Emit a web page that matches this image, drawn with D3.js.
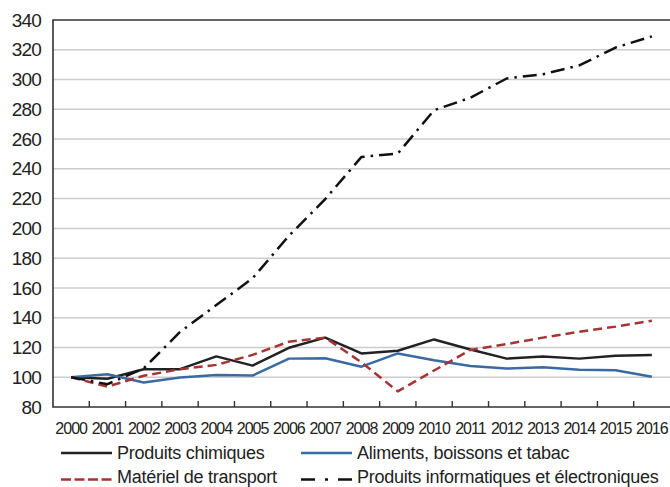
<!DOCTYPE html>
<html>
<head>
<meta charset="utf-8">
<script src="https://cdn.jsdelivr.net/npm/d3@7"></script>
<style>
  body { margin: 0; background: #fff; }
  svg { display: block; font-family: "Liberation Sans", Arial, sans-serif; }
</style>
</head>
<body>
<script>
// Data (index, 2000 = 100)
const years = ["2000","2001","2002","2003","2004","2005","2006","2007","2008","2009","2010","2011","2012","2013","2014","2015","2016"];
const chimiques = [100, 99, 105.4, 105.4, 114, 107.8, 119.8, 126.6, 116, 117.8, 125.4, 118.6, 112.5, 114, 112.5, 114.5, 115];
const aliments = [100, 102, 96.4, 99.8, 101.5, 101.1, 112.5, 112.7, 107.1, 116, 111.4, 107.6, 105.8, 106.7, 105.1, 104.7, 100.3];
const transport = [100, 93.7, 101, 105.4, 108.3, 115, 123.9, 126.6, 110, 90.5, 104.5, 118.3, 122.3, 126.6, 130.6, 134, 138];
const informatique = [100, 95.3, 106, 130.4, 148.5, 166.5, 195, 219.7, 248, 250.3, 279.4, 287.8, 300.7, 303.6, 309.5, 321.5, 329];
const yTicks = [80, 100, 120, 140, 160, 180, 200, 220, 240, 260, 280, 300, 320, 340];

const width = 670, height = 487;
const margin = { top: 20, right: 0, bottom: 80, left: 53 };

const series = [
    { name: "Produits chimiques", values: chimiques, color: "#222222", dash: null, width: 2.5 },
    { name: "Aliments, boissons et tabac", values: aliments, color: "#3b6aa3", dash: null, width: 2.5 },
    { name: "Matériel de transport", values: transport, color: "#a53535", dash: "9,5", width: 2.5 },
    { name: "Produits informatiques et électroniques", values: informatique, color: "#111111", dash: "14,6,2.5,6", width: 2.5 }
];

const svg = d3.select("body").append("svg")
    .attr("width", width)
    .attr("height", height);

const x = d3.scaleBand().domain(years).range([margin.left, width - margin.right]);
const y = d3.scaleLinear().domain([80, 340]).range([height - margin.bottom, margin.top]);

// Gridlines
svg.append("g")
    .selectAll("line")
    .data(yTicks.filter(d => d > 80 && d < 340))
    .enter().append("line")
    .attr("x1", margin.left)
    .attr("x2", width - margin.right)
    .attr("y1", d => y(d))
    .attr("y2", d => y(d))
    .style("stroke", "#cccccc")
    .style("stroke-width", "1.5px");

// Frame: top, left, bottom
svg.append("path")
    .attr("d", `M${width},${y(340)}H${margin.left}V${y(80)}H${width}`)
    .style("fill", "none")
    .style("stroke", "#333")
    .style("stroke-width", "1.6px");

// Inner ticks between years
svg.append("g")
    .selectAll("line")
    .data(years.slice(1))
    .enter().append("line")
    .attr("x1", d => x(d))
    .attr("x2", d => x(d))
    .attr("y1", y(80))
    .attr("y2", y(80) - 6)
    .style("stroke", "#333")
    .style("stroke-width", "1.4px");

// Y labels
svg.append("g")
    .attr("transform", `translate(${margin.left - 12},0)`)
    .call(d3.axisLeft(y).tickValues(yTicks).tickSize(0).tickPadding(0))
    .call(g => g.select(".domain").remove())
    .selectAll("text")
    .style("font-size", "19px")
    .style("letter-spacing", "-0.8px")
    .style("fill", "#222")
    .style("font-family", "'Liberation Sans', Arial, sans-serif");

// X labels
svg.append("g")
    .selectAll("text")
    .data(years)
    .enter().append("text")
    .attr("x", d => x(d) + x.bandwidth() / 2)
    .attr("y", 434)
    .attr("text-anchor", "middle")
    .style("font-size", "16px")
    .style("letter-spacing", "-1px")
    .style("fill", "#222")
    .text(d => d);

// Lines
const line = d3.line()
    .x((d, i) => x(years[i]) + x.bandwidth() / 2)
    .y(d => y(d));

svg.append("g")
    .selectAll("path")
    .data(series)
    .enter().append("path")
    .attr("d", d => line(d.values))
    .style("fill", "none")
    .style("stroke", d => d.color)
    .style("stroke-width", d => d.width + "px")
    .style("stroke-dasharray", d => d.dash)
    .style("stroke-linejoin", "round");

// Legend
const legendPos = [
    { x: 61, ly: 453, ty: 458.5 },
    { x: 301, ly: 453, ty: 458.5 },
    { x: 61, ly: 479.5, ty: 483 },
    { x: 301, ly: 479.5, ty: 483 }
];
const legendDash = [null, null, "10,3.5", "14,10,3,10"];

const legend = svg.append("g")
    .selectAll("g")
    .data(series)
    .enter().append("g")
    .attr("transform", (d, i) => `translate(${legendPos[i].x},0)`);

legend.append("line")
    .attr("x1", 0)
    .attr("x2", 51)
    .attr("y1", (d, i) => legendPos[i].ly)
    .attr("y2", (d, i) => legendPos[i].ly)
    .style("stroke", d => d.color)
    .style("stroke-width", "2.5px")
    .style("stroke-dasharray", (d, i) => legendDash[i]);

legend.append("text")
    .attr("x", 56)
    .attr("y", (d, i) => legendPos[i].ty)
    .style("font-size", "18px")
    .style("letter-spacing", "-0.25px")
    .style("fill", "#222")
    .text(d => d.name);
</script>
</body>
</html>
